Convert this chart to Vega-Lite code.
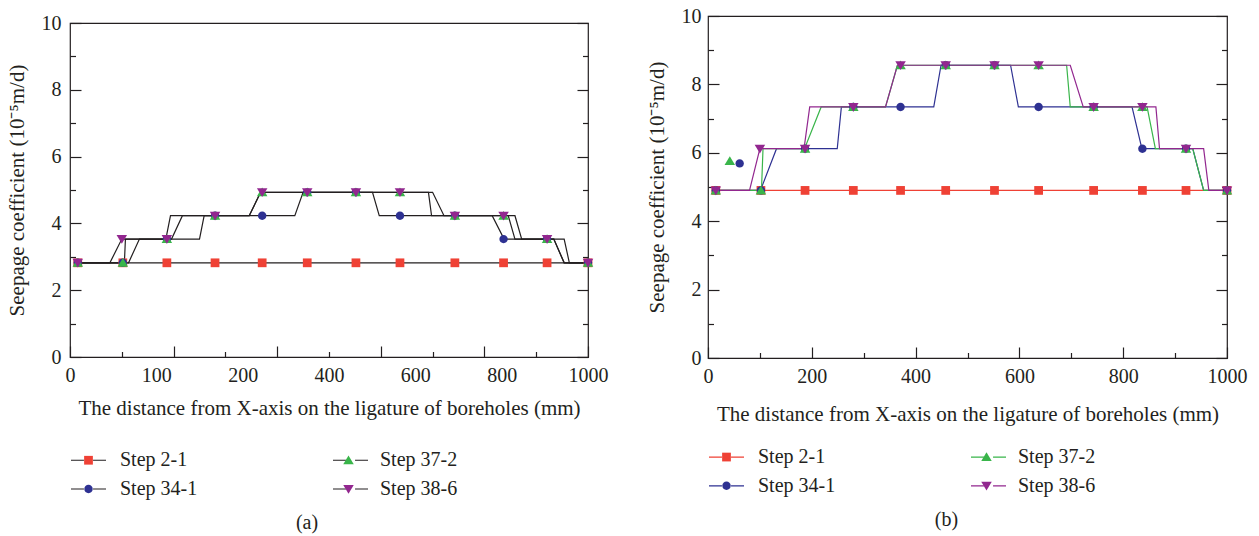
{
  "$schema": "https://vega.github.io/schema/vega-lite/v6.json",
  "background": "white",
  "padding": {"left": 5, "top": 5, "right": 5, "bottom": 5},
  "spacing": 36,
  "config": {
    "font": "Liberation Serif",
    "view": {"stroke": "#231F20", "strokeWidth": 1.2},
    "axis": {"domain": false, "grid": false, "tickColor": "#231F20", "tickWidth": 1.2, "labelColor": "#231F20", "titleColor": "#231F20", "labelFont": "Liberation Serif", "titleFont": "Liberation Serif", "labelFontSize": 20, "titleFontSize": 21, "titleFontWeight": "normal", "labelOverlap": false, "labelFlush": false},
    "legend": {"labelFont": "Liberation Serif", "labelFontSize": 20, "labelColor": "#231F20", "padding": 0},
    "title": {"font": "Liberation Serif", "fontSize": 20, "fontWeight": "normal", "color": "#231F20"}
  },
  "datasets": {
    "lnsA": [
      {"series": "Step 2-1", "x": 15, "y": 2.82}, {"series": "Step 2-1", "x": 1000, "y": 2.82},
      {"series": "Step 34-1", "x": 15, "y": 2.82}, {"series": "Step 34-1", "x": 113, "y": 2.82}, {"series": "Step 34-1", "x": 134, "y": 3.53}, {"series": "Step 34-1", "x": 250, "y": 3.53}, {"series": "Step 34-1", "x": 259, "y": 4.23}, {"series": "Step 34-1", "x": 434, "y": 4.23}, {"series": "Step 34-1", "x": 450, "y": 4.93}, {"series": "Step 34-1", "x": 584, "y": 4.93}, {"series": "Step 34-1", "x": 597, "y": 4.23}, {"series": "Step 34-1", "x": 815, "y": 4.23}, {"series": "Step 34-1", "x": 838, "y": 3.53}, {"series": "Step 34-1", "x": 934, "y": 3.53}, {"series": "Step 34-1", "x": 954, "y": 2.82}, {"series": "Step 34-1", "x": 1000, "y": 2.82},
      {"series": "Step 37-2", "x": 15, "y": 2.82}, {"series": "Step 37-2", "x": 105, "y": 2.82}, {"series": "Step 37-2", "x": 107, "y": 3.53}, {"series": "Step 37-2", "x": 196, "y": 3.53}, {"series": "Step 37-2", "x": 217, "y": 4.23}, {"series": "Step 37-2", "x": 346, "y": 4.23}, {"series": "Step 37-2", "x": 368, "y": 4.93}, {"series": "Step 37-2", "x": 692, "y": 4.93}, {"series": "Step 37-2", "x": 698, "y": 4.23}, {"series": "Step 37-2", "x": 846, "y": 4.23}, {"series": "Step 37-2", "x": 859, "y": 3.53}, {"series": "Step 37-2", "x": 934, "y": 3.53}, {"series": "Step 37-2", "x": 954, "y": 2.82}, {"series": "Step 37-2", "x": 1000, "y": 2.82},
      {"series": "Step 38-6", "x": 15, "y": 2.82}, {"series": "Step 38-6", "x": 77, "y": 2.82}, {"series": "Step 38-6", "x": 100, "y": 3.53}, {"series": "Step 38-6", "x": 185, "y": 3.53}, {"series": "Step 38-6", "x": 194, "y": 4.23}, {"series": "Step 38-6", "x": 346, "y": 4.23}, {"series": "Step 38-6", "x": 368, "y": 4.93}, {"series": "Step 38-6", "x": 700, "y": 4.93}, {"series": "Step 38-6", "x": 722, "y": 4.23}, {"series": "Step 38-6", "x": 859, "y": 4.23}, {"series": "Step 38-6", "x": 872, "y": 3.53}, {"series": "Step 38-6", "x": 954, "y": 3.53}, {"series": "Step 38-6", "x": 964, "y": 2.82}, {"series": "Step 38-6", "x": 1000, "y": 2.82}
    ],
    "ptsA": [
      {"series": "Step 2-1", "x": 15, "y": 2.82}, {"series": "Step 2-1", "x": 102, "y": 2.82}, {"series": "Step 2-1", "x": 187, "y": 2.82}, {"series": "Step 2-1", "x": 280, "y": 2.82}, {"series": "Step 2-1", "x": 371, "y": 2.82}, {"series": "Step 2-1", "x": 458, "y": 2.82}, {"series": "Step 2-1", "x": 552, "y": 2.82}, {"series": "Step 2-1", "x": 637, "y": 2.82}, {"series": "Step 2-1", "x": 743, "y": 2.82}, {"series": "Step 2-1", "x": 837, "y": 2.82}, {"series": "Step 2-1", "x": 921, "y": 2.82}, {"series": "Step 2-1", "x": 1000, "y": 2.82},
      {"series": "Step 34-1", "x": 15, "y": 2.82}, {"series": "Step 34-1", "x": 102, "y": 2.82}, {"series": "Step 34-1", "x": 187, "y": 3.53}, {"series": "Step 34-1", "x": 280, "y": 4.23}, {"series": "Step 34-1", "x": 371, "y": 4.23}, {"series": "Step 34-1", "x": 458, "y": 4.93}, {"series": "Step 34-1", "x": 552, "y": 4.93}, {"series": "Step 34-1", "x": 637, "y": 4.23}, {"series": "Step 34-1", "x": 743, "y": 4.23}, {"series": "Step 34-1", "x": 837, "y": 3.53}, {"series": "Step 34-1", "x": 921, "y": 3.53}, {"series": "Step 34-1", "x": 1000, "y": 2.82},
      {"series": "Step 37-2", "x": 15, "y": 2.82}, {"series": "Step 37-2", "x": 102, "y": 2.82}, {"series": "Step 37-2", "x": 187, "y": 3.53}, {"series": "Step 37-2", "x": 280, "y": 4.23}, {"series": "Step 37-2", "x": 371, "y": 4.93}, {"series": "Step 37-2", "x": 458, "y": 4.93}, {"series": "Step 37-2", "x": 552, "y": 4.93}, {"series": "Step 37-2", "x": 637, "y": 4.93}, {"series": "Step 37-2", "x": 743, "y": 4.23}, {"series": "Step 37-2", "x": 837, "y": 4.23}, {"series": "Step 37-2", "x": 921, "y": 3.53}, {"series": "Step 37-2", "x": 1000, "y": 2.82},
      {"series": "Step 38-6", "x": 15, "y": 2.82}, {"series": "Step 38-6", "x": 100, "y": 3.53}, {"series": "Step 38-6", "x": 187, "y": 3.53}, {"series": "Step 38-6", "x": 280, "y": 4.23}, {"series": "Step 38-6", "x": 371, "y": 4.93}, {"series": "Step 38-6", "x": 458, "y": 4.93}, {"series": "Step 38-6", "x": 552, "y": 4.93}, {"series": "Step 38-6", "x": 637, "y": 4.93}, {"series": "Step 38-6", "x": 743, "y": 4.23}, {"series": "Step 38-6", "x": 837, "y": 4.23}, {"series": "Step 38-6", "x": 921, "y": 3.53}, {"series": "Step 38-6", "x": 1000, "y": 2.82}
    ],
    "lnsB": [
      {"series": "Step 2-1", "x": 15, "y": 4.9}, {"series": "Step 2-1", "x": 1000, "y": 4.9},
      {"series": "Step 34-1", "x": 15, "y": 4.9}, {"series": "Step 34-1", "x": 101, "y": 4.9}, {"series": "Step 34-1", "x": 132, "y": 6.12}, {"series": "Step 34-1", "x": 249, "y": 6.12}, {"series": "Step 34-1", "x": 257, "y": 7.34}, {"series": "Step 34-1", "x": 435, "y": 7.34}, {"series": "Step 34-1", "x": 449, "y": 8.56}, {"series": "Step 34-1", "x": 583, "y": 8.56}, {"series": "Step 34-1", "x": 598, "y": 7.34}, {"series": "Step 34-1", "x": 817, "y": 7.34}, {"series": "Step 34-1", "x": 836, "y": 6.12}, {"series": "Step 34-1", "x": 934, "y": 6.12}, {"series": "Step 34-1", "x": 955, "y": 4.9}, {"series": "Step 34-1", "x": 1000, "y": 4.9},
      {"series": "Step 37-2", "x": 15, "y": 4.9}, {"series": "Step 37-2", "x": 103, "y": 4.9}, {"series": "Step 37-2", "x": 106, "y": 6.12}, {"series": "Step 37-2", "x": 186, "y": 6.12}, {"series": "Step 37-2", "x": 218, "y": 7.34}, {"series": "Step 37-2", "x": 342, "y": 7.34}, {"series": "Step 37-2", "x": 365, "y": 8.56}, {"series": "Step 37-2", "x": 691, "y": 8.56}, {"series": "Step 37-2", "x": 698, "y": 7.34}, {"series": "Step 37-2", "x": 846, "y": 7.34}, {"series": "Step 37-2", "x": 862, "y": 6.12}, {"series": "Step 37-2", "x": 934, "y": 6.12}, {"series": "Step 37-2", "x": 955, "y": 4.9}, {"series": "Step 37-2", "x": 1000, "y": 4.9},
      {"series": "Step 38-6", "x": 15, "y": 4.9}, {"series": "Step 38-6", "x": 80, "y": 4.9}, {"series": "Step 38-6", "x": 100, "y": 6.12}, {"series": "Step 38-6", "x": 185, "y": 6.12}, {"series": "Step 38-6", "x": 196, "y": 7.34}, {"series": "Step 38-6", "x": 342, "y": 7.34}, {"series": "Step 38-6", "x": 365, "y": 8.56}, {"series": "Step 38-6", "x": 698, "y": 8.56}, {"series": "Step 38-6", "x": 723, "y": 7.34}, {"series": "Step 38-6", "x": 863, "y": 7.34}, {"series": "Step 38-6", "x": 870, "y": 6.12}, {"series": "Step 38-6", "x": 955, "y": 6.12}, {"series": "Step 38-6", "x": 965, "y": 4.9}, {"series": "Step 38-6", "x": 1000, "y": 4.9}
    ],
    "ptsB": [
      {"series": "Step 2-1", "x": 15, "y": 4.9}, {"series": "Step 2-1", "x": 102, "y": 4.9}, {"series": "Step 2-1", "x": 187, "y": 4.9}, {"series": "Step 2-1", "x": 280, "y": 4.9}, {"series": "Step 2-1", "x": 371, "y": 4.9}, {"series": "Step 2-1", "x": 458, "y": 4.9}, {"series": "Step 2-1", "x": 552, "y": 4.9}, {"series": "Step 2-1", "x": 637, "y": 4.9}, {"series": "Step 2-1", "x": 743, "y": 4.9}, {"series": "Step 2-1", "x": 837, "y": 4.9}, {"series": "Step 2-1", "x": 921, "y": 4.9}, {"series": "Step 2-1", "x": 1000, "y": 4.9},
      {"series": "Step 34-1", "x": 15, "y": 4.9}, {"series": "Step 34-1", "x": 61, "y": 5.69}, {"series": "Step 34-1", "x": 102, "y": 4.9}, {"series": "Step 34-1", "x": 187, "y": 6.12}, {"series": "Step 34-1", "x": 280, "y": 7.34}, {"series": "Step 34-1", "x": 371, "y": 7.34}, {"series": "Step 34-1", "x": 458, "y": 8.56}, {"series": "Step 34-1", "x": 552, "y": 8.56}, {"series": "Step 34-1", "x": 637, "y": 7.34}, {"series": "Step 34-1", "x": 743, "y": 7.34}, {"series": "Step 34-1", "x": 837, "y": 6.12}, {"series": "Step 34-1", "x": 921, "y": 6.12}, {"series": "Step 34-1", "x": 1000, "y": 4.9},
      {"series": "Step 37-2", "x": 15, "y": 4.9}, {"series": "Step 37-2", "x": 42, "y": 5.76}, {"series": "Step 37-2", "x": 102, "y": 4.9}, {"series": "Step 37-2", "x": 187, "y": 6.12}, {"series": "Step 37-2", "x": 280, "y": 7.34}, {"series": "Step 37-2", "x": 371, "y": 8.56}, {"series": "Step 37-2", "x": 458, "y": 8.56}, {"series": "Step 37-2", "x": 552, "y": 8.56}, {"series": "Step 37-2", "x": 637, "y": 8.56}, {"series": "Step 37-2", "x": 743, "y": 7.34}, {"series": "Step 37-2", "x": 837, "y": 7.34}, {"series": "Step 37-2", "x": 921, "y": 6.12}, {"series": "Step 37-2", "x": 1000, "y": 4.9},
      {"series": "Step 38-6", "x": 15, "y": 4.9}, {"series": "Step 38-6", "x": 100, "y": 6.12}, {"series": "Step 38-6", "x": 187, "y": 6.12}, {"series": "Step 38-6", "x": 280, "y": 7.34}, {"series": "Step 38-6", "x": 371, "y": 8.56}, {"series": "Step 38-6", "x": 458, "y": 8.56}, {"series": "Step 38-6", "x": 552, "y": 8.56}, {"series": "Step 38-6", "x": 637, "y": 8.56}, {"series": "Step 38-6", "x": 743, "y": 7.34}, {"series": "Step 38-6", "x": 837, "y": 7.34}, {"series": "Step 38-6", "x": 921, "y": 6.12}, {"series": "Step 38-6", "x": 1000, "y": 4.9}
    ]
  },
  "resolve": {
    "scale": {"x": "independent", "y": "independent", "stroke": "independent", "fill": "independent", "shape": "independent"},
    "legend": {"stroke": "independent", "fill": "independent", "shape": "independent"}
  },
  "hconcat": [
    {
      "spacing": -5,
      "resolve": {
        "scale": {"x": "independent", "y": "independent", "stroke": "independent", "fill": "independent", "shape": "independent"},
        "legend": {"stroke": "independent", "fill": "independent", "shape": "independent"}
      },
      "vconcat": [
        {"width": 518, "height": 1, "data": {"values": []}, "mark": "point", "view": {"stroke": null}},
        {
          "width": 518,
          "height": 334,
          "title": {"text": "(a)", "orient": "bottom", "anchor": "middle", "frame": "bounds", "offset": 13},
          "resolve": {"axis": {"x": "independent", "y": "independent"}},
          "layer": [
            {
              "data": {"name": "lnsA"},
              "transform": [{"filter": "datum.series === 'Step 2-1'"}],
              "mark": {"type": "line", "strokeWidth": 1.2},
              "encoding": {
                "x": {"field": "x", "type": "quantitative", "scale": {"domain": [0, 1000], "nice": false}, "axis": null},
                "y": {"field": "y", "type": "quantitative", "scale": {"domain": [0, 10], "nice": false},
                      "axis": {"orient": "right", "values": [0,1,2,3,4,5,6,7,8,9,10], "labels": false, "title": null,
                               "tickSize": {"condition": {"test": "datum.value % 2 === 0", "value": -11}, "value": -5.5}}},
                "stroke": {"field": "series", "type": "nominal",
                           "scale": {"range": ["#231F20", "#231F20", "#231F20", "#231F20"]},
                           "legend": {"orient": "none", "legendX": 0, "legendY": 418.5, "columns": 2, "columnPadding": 210, "rowPadding": 0, "title": null,
                                      "symbolType": "M-1,0H-0.26M0.26,0H1", "symbolSize": 1225, "symbolStrokeWidth": 1.2, "labelOffset": 13, "labelExpr": "''"}}
              }
            },
            {
              "data": {"name": "lnsA"},
              "transform": [{"filter": "datum.series !== 'Step 2-1'"}],
              "mark": {"type": "line", "strokeWidth": 1.2},
              "encoding": {
                "x": {"field": "x", "type": "quantitative",
                      "axis": {"orient": "bottom", "values": [0,100,200,300,400,500,600,700,800,900,1000], "labels": false, "title": null,
                               "tickSize": {"condition": {"test": "datum.value % 200 === 0", "value": -11}, "value": -5.5}}},
                "y": {"field": "y", "type": "quantitative",
                      "axis": {"orient": "left", "values": [0,1,2,3,4,5,6,7,8,9,10], "labelPadding": 20, "titlePadding": 14,
                               "labelExpr": "datum.value % 2 === 0 ? datum.label : ''",
                               "title": "Seepage coefficient (10⁻⁵m/d)",
                               "tickSize": {"condition": {"test": "datum.value % 2 === 0", "value": -11}, "value": -5.5}}},
                "stroke": {"field": "series", "type": "nominal"}
              }
            },
            {
              "data": {"name": "ptsA"},
              "mark": {"type": "point", "filled": true, "size": 1225, "opacity": 1},
              "encoding": {
                "x": {"field": "x", "type": "quantitative",
                      "axis": {"orient": "bottom", "values": [0, 166.667, 333.333, 500, 666.667, 833.333, 1000], "ticks": false, "labelPadding": 8, "titlePadding": 12,
                               "labelExpr": "datum.value < 1 ? '0' : datum.value < 200 ? '100' : datum.value < 400 ? '200' : datum.value < 600 ? '400' : datum.value < 700 ? '600' : datum.value < 900 ? '800' : '1000'",
                               "title": "The distance from X-axis on the ligature of boreholes (mm)"}},
                "y": {"field": "y", "type": "quantitative", "axis": null},
                "fill": {"field": "series", "type": "nominal",
                         "scale": {"range": ["#EF4135", "#2E3192", "#39B54A", "#92278F"]},
                         "legend": {"orient": "none", "legendX": 0, "legendY": 418.5, "columns": 2, "columnPadding": 132, "rowPadding": 0, "title": null,
                                    "symbolSize": 1225, "symbolStrokeWidth": 1.2, "labelOffset": 13}},
                "shape": {"field": "series", "type": "nominal",
                          "scale": {"range": ["M-0.25,-0.25H0.25V0.25H-0.25Z", "M-0.24,0A0.24,0.24 0 1,1 0.24,0A0.24,0.24 0 1,1 -0.24,0Z", "M0,-0.27L0.3,0.23L-0.3,0.23Z", "M0,0.27L0.3,-0.23L-0.3,-0.23Z"]},
                          "legend": {"orient": "none", "legendX": 0, "legendY": 418.5, "columns": 2, "columnPadding": 132, "rowPadding": 0, "title": null,
                                     "symbolSize": 1225, "symbolStrokeWidth": 1.2, "labelOffset": 13}}
              }
            }
          ]
        }
      ]
    },
    {
      "width": 519,
      "height": 342,
      "title": {"text": "(b)", "orient": "bottom", "anchor": "middle", "frame": "bounds", "offset": 14},
      "resolve": {"axis": {"x": "independent", "y": "independent"}},
      "layer": [
        {
          "data": {"name": "lnsB"},
          "mark": {"type": "line", "strokeWidth": 1.2},
          "encoding": {
            "x": {"field": "x", "type": "quantitative", "scale": {"domain": [0, 1000], "nice": false},
                  "axis": {"orient": "bottom", "values": [0,100,200,300,400,500,600,700,800,900,1000], "format": "d", "labelPadding": 19, "titlePadding": 12,
                           "labelExpr": "datum.value % 200 === 0 ? datum.label : ''",
                           "title": "The distance from X-axis on the ligature of boreholes (mm)",
                           "tickSize": {"condition": {"test": "datum.value % 200 === 0", "value": -11}, "value": -5.5}}},
            "y": {"field": "y", "type": "quantitative", "scale": {"domain": [0, 10], "nice": false},
                  "axis": {"orient": "left", "values": [0,1,2,3,4,5,6,7,8,9,10], "labelPadding": 18, "titlePadding": 14,
                           "labelExpr": "datum.value % 2 === 0 ? datum.label : ''",
                           "title": "Seepage coefficient (10⁻⁵m/d)",
                           "tickSize": {"condition": {"test": "datum.value % 2 === 0", "value": -11}, "value": -5.5}}},
            "stroke": {"field": "series", "type": "nominal",
                       "scale": {"range": ["#EF4135", "#2E3192", "#39B54A", "#92278F"]},
                       "legend": {"orient": "none", "legendX": 0, "legendY": 422.3, "columns": 2, "columnPadding": 210, "rowPadding": 0, "title": null,
                                  "symbolType": "M-1,0H-0.26M0.26,0H1", "symbolSize": 1225, "symbolStrokeWidth": 1.2, "labelOffset": 13, "labelExpr": "''"}}
          }
        },
        {
          "data": {"name": "ptsB"},
          "mark": {"type": "point", "filled": true, "size": 1225, "opacity": 1},
          "encoding": {
            "x": {"field": "x", "type": "quantitative", "axis": null},
            "y": {"field": "y", "type": "quantitative",
                  "axis": {"orient": "right", "values": [0,1,2,3,4,5,6,7,8,9,10], "labels": false, "title": null,
                           "tickSize": {"condition": {"test": "datum.value % 2 === 0", "value": -11}, "value": -5.5}}},
            "fill": {"field": "series", "type": "nominal",
                     "scale": {"range": ["#EF4135", "#2E3192", "#39B54A", "#92278F"]},
                     "legend": {"orient": "none", "legendX": 0, "legendY": 422.3, "columns": 2, "columnPadding": 132, "rowPadding": 0, "title": null,
                                "symbolSize": 1225, "symbolStrokeWidth": 1.2, "labelOffset": 13}},
            "shape": {"field": "series", "type": "nominal",
                      "scale": {"range": ["M-0.25,-0.25H0.25V0.25H-0.25Z", "M-0.24,0A0.24,0.24 0 1,1 0.24,0A0.24,0.24 0 1,1 -0.24,0Z", "M0,-0.27L0.3,0.23L-0.3,0.23Z", "M0,0.27L0.3,-0.23L-0.3,-0.23Z"]},
                      "legend": {"orient": "none", "legendX": 0, "legendY": 422.3, "columns": 2, "columnPadding": 132, "rowPadding": 0, "title": null,
                                 "symbolSize": 1225, "symbolStrokeWidth": 1.2, "labelOffset": 13}}
          }
        }
      ]
    }
  ]
}
